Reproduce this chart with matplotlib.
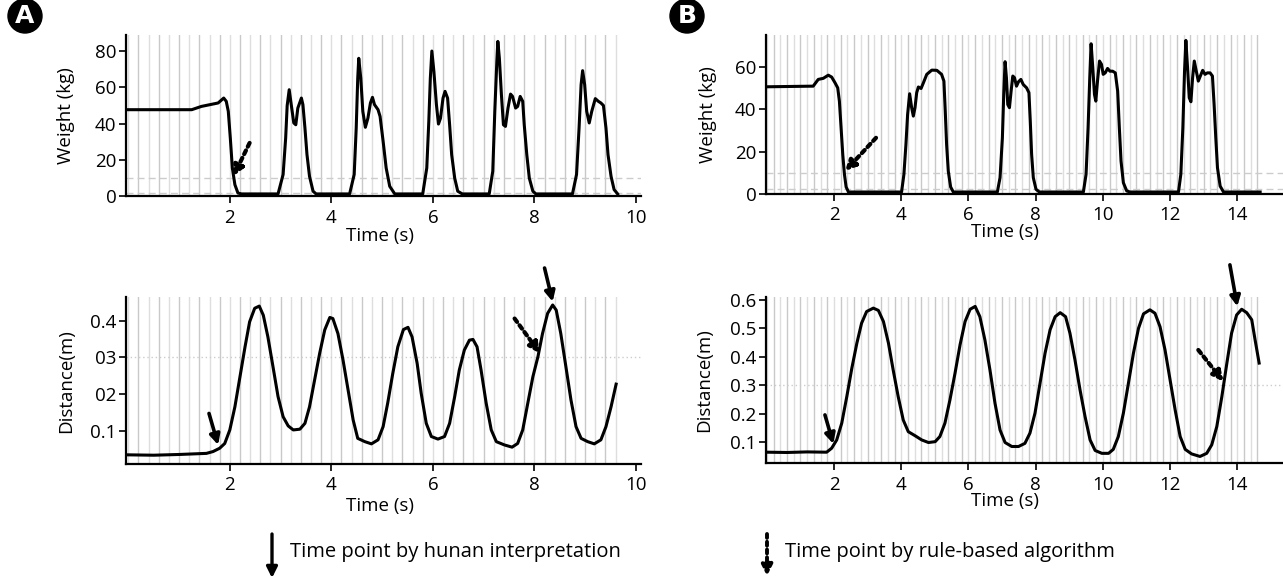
import matplotlib
matplotlib.use("Agg")
import numpy as np
from matplotlib import pyplot as plt


plt.rcParams['font.family'] = ['Liberation Sans Narrow', 'Open Sans', 'DejaVu Sans']

# ---- panel A, weight (kg) ----
a_w_t = [0, 1.25, 1.44, 1.77, 1.88, 1.93, 1.97, 2.01, 2.05, 2.10, 2.16, 2.23,
         2.95, 3.05, 3.10, 3.13, 3.17, 3.21, 3.26, 3.30, 3.34, 3.41, 3.44, 3.48, 3.52, 3.57, 3.64, 3.70,
         4.36, 4.45, 4.49, 4.52, 4.54, 4.58, 4.62, 4.67, 4.72, 4.77, 4.81, 4.85, 4.92, 4.96, 5.02, 5.08, 5.15, 5.25,
         5.80, 5.88, 5.92, 5.95, 5.98, 6.02, 6.07, 6.11, 6.15, 6.20, 6.24, 6.29, 6.33, 6.37, 6.43, 6.49, 6.58,
         7.11, 7.18, 7.22, 7.26, 7.28, 7.31, 7.35, 7.39, 7.43, 7.48, 7.53, 7.57, 7.63, 7.67, 7.72, 7.77, 7.80,
         7.85, 7.90, 7.97, 8.03,
         8.75, 8.83, 8.88, 8.92, 8.95, 8.99, 9.03, 9.08, 9.13, 9.20, 9.26, 9.31, 9.36, 9.41, 9.45, 9.51, 9.57, 9.64]
a_w_kg = [47.7, 47.7, 49.5, 51.4, 54.1, 52.3, 46.8, 32, 15.6, 6.4, 1.8, 1.3,
          1.3, 12, 32, 50, 58.7, 50.5, 40.4, 39.4, 48.6, 54.1, 50.5, 37.6, 23, 11, 2.8, 1.3,
          1.3, 12, 37.6, 65, 76, 65, 46.8, 38, 43, 51.4, 54.5, 50.5, 47.7, 44, 30.3, 15.6, 5.5, 1.3,
          1.3, 15.6, 41.3, 65, 80, 68.8, 50.5, 39.8, 43, 54.1, 57.8, 54.1, 39.4, 23, 10, 2.8, 1.3,
          1.3, 13.8, 46.8, 74.3, 85.3, 76, 56, 39.4, 38.5, 48.6, 56.3, 55, 48.6, 49.5, 55, 52.3, 39.4,
          23, 10, 2.8, 1.3,
          1.3, 12, 37.6, 61.5, 69.2, 61.5, 46.8, 40.4, 46.8, 53.8, 52.3, 51.4, 50, 37.6, 23, 11, 3.7, 1.3]

# ---- panel A, distance (m) ----
a_d_t = [0, 0.5, 1.0, 1.54, 1.67, 1.80, 1.90, 2.0, 2.10, 2.20, 2.30, 2.39, 2.49, 2.58, 2.66, 2.75, 2.85,
         2.95, 3.05, 3.15, 3.25, 3.38, 3.48, 3.57, 3.67, 3.77, 3.87, 3.97, 4.03, 4.13, 4.23, 4.33, 4.43,
         4.52, 4.66, 4.79, 4.92, 5.02, 5.11, 5.21, 5.31, 5.42, 5.51, 5.59, 5.69, 5.77, 5.87, 5.97, 6.10,
         6.23, 6.33, 6.43, 6.52, 6.62, 6.72, 6.79, 6.87, 6.95, 7.05, 7.15, 7.25, 7.41, 7.56, 7.67, 7.77,
         7.87, 7.97, 8.07, 8.16, 8.26, 8.36, 8.43, 8.52, 8.62, 8.72, 8.82, 8.92, 9.05, 9.18, 9.31, 9.41,
         9.51, 9.61]
a_d_m = [0.034, 0.033, 0.035, 0.038, 0.043, 0.052, 0.065, 0.102, 0.165, 0.247, 0.329, 0.397, 0.434, 0.440,
         0.415, 0.356, 0.275, 0.193, 0.138, 0.113, 0.102, 0.104, 0.120, 0.165, 0.238, 0.311, 0.375, 0.409,
         0.406, 0.365, 0.293, 0.211, 0.129, 0.079, 0.070, 0.064, 0.075, 0.111, 0.175, 0.256, 0.329, 0.376,
         0.382, 0.356, 0.284, 0.202, 0.120, 0.084, 0.077, 0.084, 0.120, 0.193, 0.265, 0.320, 0.347, 0.349,
         0.329, 0.265, 0.175, 0.102, 0.070, 0.061, 0.055, 0.065, 0.102, 0.175, 0.247, 0.302, 0.365, 0.420,
         0.443, 0.429, 0.365, 0.275, 0.184, 0.111, 0.079, 0.070, 0.064, 0.075, 0.111, 0.165, 0.227]

# ---- panel B, weight (kg) ----
b_w_t = [0, 1.38, 1.53, 1.68, 1.83, 1.93, 2.03, 2.11, 2.16, 2.21, 2.26, 2.31, 2.36, 2.43,
         4.01, 4.08, 4.14, 4.19, 4.25, 4.31, 4.36, 4.41, 4.46, 4.51, 4.59, 4.66, 4.76, 4.91, 5.06, 5.20,
         5.27, 5.31, 5.35, 5.40, 5.47, 5.55,
         6.86, 6.94, 7.01, 7.05, 7.09, 7.13, 7.17, 7.22, 7.27, 7.32, 7.37, 7.43, 7.49, 7.56, 7.63, 7.73,
         7.80, 7.84, 7.88, 7.93, 8.01, 8.11,
         9.42, 9.50, 9.56, 9.61, 9.65, 9.70, 9.75, 9.79, 9.84, 9.90, 9.96, 10.01, 10.07, 10.14, 10.21,
         10.29, 10.37, 10.44, 10.49, 10.54, 10.61, 10.71, 10.81,
         12.25, 12.32, 12.38, 12.43, 12.47, 12.52, 12.57, 12.62, 12.67, 12.72, 12.78, 12.84, 12.90, 12.97,
         13.04, 13.11, 13.19, 13.26, 13.31, 13.36, 13.41, 13.49, 13.59, 14.68]
b_w_kg = [50.7, 51, 54.2, 54.7, 56.2, 55.3, 52.6, 50.2, 43.9, 31.3, 18.6, 9.2, 3.2, 0.8,
          0.8, 9.2, 23.4, 37.6, 47.4, 40.8, 36.8, 40.8, 47.9, 50.6, 49.9, 52.6, 56.6, 58.6, 58.5, 56.6,
          53.4, 39.2, 23.4, 10.7, 3.2, 0.8,
          0.8, 7.6, 26.5, 47.1, 62.6, 55, 42.3, 40.8, 48.7, 55.8, 55, 51, 53.1, 54.2, 51.8, 50.2,
          47.9, 34.4, 18.6, 7.6, 2.1, 0.8,
          0.8, 9.2, 31.3, 55, 71.1, 59.7, 47.1, 43.9, 53.4, 62.9, 61.3, 56.6, 57.3, 59.4, 58.1,
          58.1, 57.3, 48.7, 31.3, 15.5, 5.2, 1.3, 0.8,
          0.8, 9.2, 31.3, 58.1, 72.7, 59.7, 45.5, 43.6, 55, 62.9, 58.1, 53.4, 55.8, 58.5,
          56.6, 57.3, 57.3, 55.8, 42.3, 26.5, 12.3, 3.6, 0.8, 0.8]

# ---- panel B, distance (m) ----
b_d_t = [0, 0.6, 1.2, 1.78, 1.93, 2.08, 2.23, 2.38, 2.53, 2.68, 2.82, 2.97, 3.17, 3.32, 3.47, 3.62,
         3.76, 3.91, 4.06, 4.21, 4.41, 4.61, 4.81, 5.01, 5.15, 5.30, 5.45, 5.60, 5.75, 5.90, 6.05, 6.20,
         6.34, 6.49, 6.64, 6.79, 6.94, 7.09, 7.29, 7.49, 7.68, 7.83, 7.98, 8.13, 8.28, 8.43, 8.58, 8.73,
         8.89, 9.02, 9.17, 9.32, 9.47, 9.62, 9.77, 9.97, 10.17, 10.31, 10.46, 10.61, 10.76, 10.91, 11.06,
         11.21, 11.40, 11.55, 11.70, 11.85, 12.0, 12.15, 12.30, 12.45, 12.64, 12.89, 13.09, 13.24, 13.39,
         13.54, 13.69, 13.83, 13.98, 14.13, 14.28, 14.43, 14.53, 14.65]
b_d_m = [0.065, 0.064, 0.066, 0.065, 0.079, 0.108, 0.167, 0.260, 0.360, 0.448, 0.518, 0.559, 0.571,
         0.563, 0.524, 0.448, 0.354, 0.260, 0.178, 0.137, 0.123, 0.108, 0.099, 0.102, 0.120, 0.167, 0.249,
         0.342, 0.442, 0.524, 0.567, 0.577, 0.541, 0.459, 0.354, 0.237, 0.143, 0.099, 0.085, 0.085, 0.096,
         0.132, 0.202, 0.307, 0.413, 0.495, 0.541, 0.555, 0.541, 0.483, 0.389, 0.284, 0.190, 0.108, 0.071,
         0.061, 0.061, 0.075, 0.120, 0.202, 0.307, 0.413, 0.500, 0.551, 0.565, 0.553, 0.506, 0.424, 0.319,
         0.214, 0.120, 0.075, 0.059, 0.050, 0.061, 0.091, 0.155, 0.260, 0.378, 0.483, 0.547, 0.567, 0.555,
         0.530, 0.459, 0.378]

# arrows: (tail, tip) in data coords
a_w_algo = ((2.39, 29.4), (2.07, 11.0))
a_d_human = [((1.59, 0.147), (1.77, 0.061)), ((8.20, 0.544), (8.36, 0.452))]
a_d_algo = ((7.61, 0.406), (8.11, 0.311))
b_w_algo = ((3.25, 26.5), (2.33, 10.7))
b_d_human = [((1.73, 0.196), (1.98, 0.094)), ((13.78, 0.723), (14.0, 0.577))]
b_d_algo = ((12.84, 0.424), (13.59, 0.313))

a_xticks = [2, 4, 6, 8, 10]
b_xticks = [2, 4, 6, 8, 10, 12, 14]
a_w_yticks = [0, 20, 40, 60, 80]
b_w_yticks = [0, 20, 40, 60]
a_d_yticks = [0.1, 0.2, 0.3, 0.4]
a_d_yticklabels = ['0.1', '02', '03', '0.4']
b_d_yticks = [0.1, 0.2, 0.3, 0.4, 0.5, 0.6]

W, H = 1283, 581
fig = plt.figure(figsize=(W / 100, H / 100), dpi=100)


def px_axes(x0, x1, y0, y1):
    # pixel box (top-left origin) -> figure axes
    return fig.add_axes([x0 / W, 1 - y1 / H, (x1 - x0) / W, (y1 - y0) / H])


def style(ax, t_end):
    for s in ['top', 'right']:
        ax.spines[s].set_visible(False)
    for s in ['left', 'bottom']:
        ax.spines[s].set_linewidth(1.6)
    ax.tick_params(direction='out', length=5, width=1.2, labelsize=13.5, pad=2)
    ax.tick_params(axis='x', pad=4)
    # frame marker lines
    for i, x in enumerate(np.arange(0, t_end, 0.2)):
        ax.axvline(x, color='#c9c9c9' if i % 2 else '#dedede', lw=1.0, zorder=0)


def arrow(ax, tail, tip, dotted=False):
    ax.annotate('', xy=tip, xytext=tail, annotation_clip=False,
                arrowprops=dict(arrowstyle='-|>', color='black', lw=2.6 if not dotted else 3.0,
                                linestyle=(0, (1, 1)) if dotted else '-',
                                mutation_scale=15, shrinkA=0, shrinkB=0))


# A top
ax = px_axes(126, 641, 34.7, 196.3)
style(ax, 9.65)
ax.axhline(10, color='#cccccc', lw=1, ls=(0, (5, 3)), zorder=1)
ax.axhline(2, color='#cccccc', lw=1, ls=(0, (5, 3)), zorder=1)
ax.plot(a_w_t, a_w_kg, color='black', lw=2.2, solid_joinstyle='round')
ax.set_xlim(-0.045, 10.1)
ax.set_ylim(0, 89)
ax.set_xticks(a_xticks)
ax.set_yticks(a_w_yticks)
arrow(ax, *a_w_algo, dotted=True)
ax.set_ylabel('Weight (kg)', fontsize=13.5)
ax.set_xlabel('Time (s)', fontsize=13.5)
ax.yaxis.set_label_coords(-0.099, 0.5)
ax.xaxis.set_label_coords(0.493, -0.19)

# A bottom
ax = px_axes(126, 641, 297.3, 464)
style(ax, 9.65)
ax.axhline(0.3, color='#cccccc', lw=1, ls=(0, (1, 2)), zorder=1)
ax.plot(a_d_t, a_d_m, color='black', lw=2.2, solid_joinstyle='round')
ax.set_xlim(-0.045, 10.1)
ax.set_ylim(0.009, 0.464)
ax.set_xticks(a_xticks)
ax.set_yticks(a_d_yticks)
ax.set_yticklabels(a_d_yticklabels)
for tail, tip in a_d_human:
    arrow(ax, tail, tip)
arrow(ax, *a_d_algo, dotted=True)
ax.set_ylabel('Distance(m)', fontsize=13.5)
ax.set_xlabel('Time (s)', fontsize=13.5)
ax.yaxis.set_label_coords(-0.099, 0.5)
ax.xaxis.set_label_coords(0.493, -0.2)

# B top
ax = px_axes(766, 1283, 34.7, 193.7)
style(ax, 14.7)
ax.axhline(10, color='#cccccc', lw=1, ls=(0, (5, 3)), zorder=1)
ax.axhline(2, color='#cccccc', lw=1, ls=(0, (5, 3)), zorder=1)
ax.plot(b_w_t, b_w_kg, color='black', lw=2.2, solid_joinstyle='round')
ax.set_xlim(-0.024, 15.36)
ax.set_ylim(0, 75.4)
ax.set_xticks(b_xticks)
ax.set_yticks(b_w_yticks)
arrow(ax, *b_w_algo, dotted=True)
ax.set_ylabel('Weight (kg)', fontsize=13.5)
ax.set_xlabel('Time (s)', fontsize=13.5)
ax.yaxis.set_label_coords(-0.095, 0.5)
ax.xaxis.set_label_coords(0.462, -0.185)

# B bottom
ax = px_axes(766, 1283, 297.3, 463.3)
style(ax, 14.7)
ax.axhline(0.3, color='#cccccc', lw=1, ls=(0, (1, 2)), zorder=1)
ax.plot(b_d_t, b_d_m, color='black', lw=2.2, solid_joinstyle='round')
ax.set_xlim(-0.024, 15.36)
ax.set_ylim(0.026, 0.609)
ax.set_xticks(b_xticks)
ax.set_yticks(b_d_yticks)
for tail, tip in b_d_human:
    arrow(ax, tail, tip)
arrow(ax, *b_d_algo, dotted=True)
ax.set_ylabel('Distance(m)', fontsize=13.5)
ax.set_xlabel('Time (s)', fontsize=13.5)
ax.yaxis.set_label_coords(-0.103, 0.5)
ax.xaxis.set_label_coords(0.462, -0.175)

# panel letters
for letter, x in [('A', 25), ('B', 687)]:
    fig.text(x / W, 1 - 16 / H, letter, color='white', fontsize=18, fontweight='bold',
             ha='center', va='center', family='DejaVu Sans',
             bbox=dict(boxstyle='circle,pad=0.2', fc='black', ec='black'))

# legend row
fig.patches.append(matplotlib.patches.FancyArrowPatch(
    (272 / W, 1 - 534 / H), (272 / W, 1 - 578 / H), transform=fig.transFigure,
    arrowstyle='-|>', mutation_scale=16, lw=2.4, color='black', shrinkA=0, shrinkB=0))
fig.patches.append(matplotlib.patches.FancyArrowPatch(
    (767 / W, 1 - 534 / H), (767 / W, 1 - 576 / H), transform=fig.transFigure,
    arrowstyle='-|>', mutation_scale=16, lw=2.8, ls=(0, (1, 1)), color='black',
    shrinkA=0, shrinkB=0))
fig.text(290 / W, 1 - 552 / H, 'Time point by hunan interpretation', fontsize=14.5, va='center')
fig.text(785 / W, 1 - 552 / H, 'Time point by rule-based algorithm', fontsize=14.5, va='center')

fig.savefig('out.png', dpi=100)
